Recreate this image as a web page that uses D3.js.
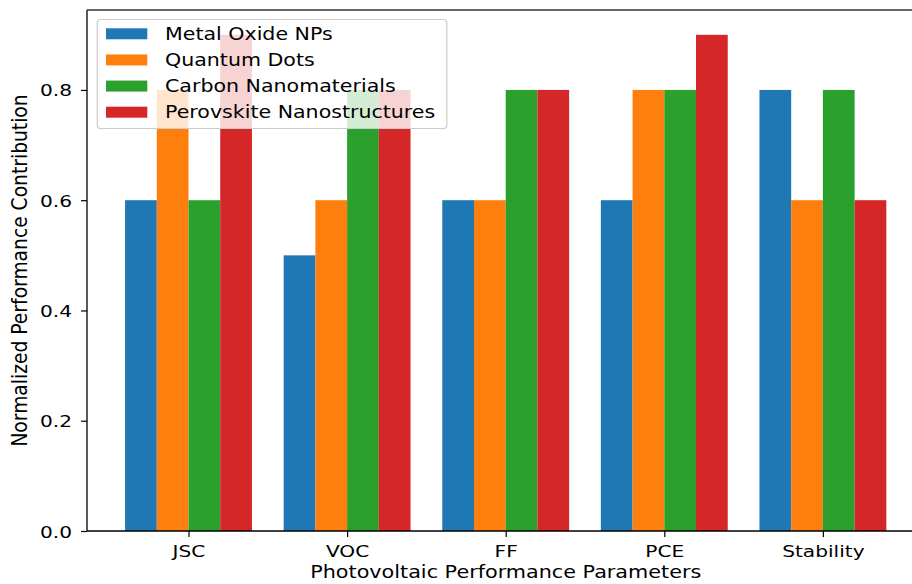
<!DOCTYPE html>
<html>
<head>
<meta charset="utf-8">
<script src="https://cdn.jsdelivr.net/npm/d3@7"></script>
<style>
  html, body { margin: 0; padding: 0; background: #fff; }
  svg { display: block; }
  text { font-family: "DejaVu Sans", sans-serif; fill: #000; }
</style>
</head>
<body>
<svg id="chart" width="912" height="584"></svg>
<script>
// Photovoltaic parameters along the x axis
const categories = ["JSC", "VOC", "FF", "PCE", "Stability"];

// One series per nanomaterial class
const seriesNames = ["Metal Oxide NPs", "Quantum Dots", "Carbon Nanomaterials", "Perovskite Nanostructures"];
const metalOxide = [0.6, 0.5, 0.6, 0.6, 0.8];
const quantumDots = [0.8, 0.6, 0.6, 0.8, 0.6];
const carbonNano = [0.6, 0.8, 0.8, 0.8, 0.8];
const perovskite = [0.9, 0.8, 0.8, 0.9, 0.6];
const seriesValues = [metalOxide, quantumDots, carbonNano, perovskite];
const seriesColors = ["#1f77b4", "#ff7f0e", "#2ca02c", "#d62728"];

const yTicks = [0.0, 0.2, 0.4, 0.6, 0.8];

const svg = d3.select("#chart");

const plot = { left: 87, right: 924.4, top: 10, bottom: 531 };
const barWidth = 0.2;
const nSeries = seriesValues.length;

// x is a continuous scale over group indices, padded on both sides
const x = d3.scaleLinear()
  .domain([-0.64, categories.length - 1 + 0.64])
  .range([plot.left, plot.right]);

const yMax = d3.max(seriesValues.flat()) * 1.05;
const y = d3.scaleLinear()
  .domain([0, yMax])
  .range([plot.bottom, plot.top]);

// helper: text stretched horizontally to suit the figure's proportions
function stretchedText(g, str, tx, ty, size, sx, anchor, rotate) {
  return g.append("text")
    .attr("transform", `translate(${tx},${ty}) scale(${sx},1)` + (rotate ? ` rotate(${rotate})` : ""))
    .attr("font-size", size)
    .attr("text-anchor", anchor)
    .text(str);
}

// bars
const bars = svg.append("g");
seriesValues.forEach((vals, j) => {
  bars.selectAll(null)
    .data(vals)
    .enter()
    .append("rect")
    .attr("x", (d, i) => x(i + (j - (nSeries - 1) / 2) * barWidth - barWidth / 2))
    .attr("width", x(barWidth) - x(0))
    .attr("y", d => y(d))
    .attr("height", d => y(0) - y(d))
    .attr("fill", seriesColors[j]);
});

// spines
const spines = svg.append("g").attr("stroke", "#000").attr("stroke-width", 1.3).attr("fill", "none");
spines.append("line").attr("x1", plot.left).attr("x2", plot.left).attr("y1", plot.top).attr("y2", plot.bottom);
spines.append("line").attr("x1", plot.left).attr("x2", plot.right).attr("y1", plot.bottom).attr("y2", plot.bottom);
spines.append("line").attr("x1", plot.left).attr("x2", plot.right).attr("y1", plot.top).attr("y2", plot.top).attr("stroke", "#333");
spines.append("line").attr("x1", plot.right).attr("x2", plot.right).attr("y1", plot.top).attr("y2", plot.bottom);

// y axis ticks and labels
const yAxis = svg.append("g")
  .attr("transform", `translate(${plot.left},0)`)
  .call(d3.axisLeft(y).tickValues(yTicks).tickSize(6).tickFormat(d3.format(".1f")));
yAxis.select(".domain").remove();
yAxis.selectAll(".tick line").attr("stroke", "#000").attr("stroke-width", 1.2);
yAxis.selectAll(".tick").each(function() {
  const tick = d3.select(this);
  const label = tick.select("text").text();
  tick.select("text").remove();
  stretchedText(tick, label, -15, 6, 16, 1.26, "end");
});

// x axis ticks and labels
const xAxis = svg.append("g")
  .attr("transform", `translate(0,${plot.bottom})`)
  .call(d3.axisBottom(x).tickValues(d3.range(categories.length)).tickSize(6).tickFormat(i => categories[i]));
xAxis.select(".domain").remove();
xAxis.selectAll(".tick line").attr("stroke", "#000").attr("stroke-width", 1.2);
xAxis.selectAll(".tick").each(function() {
  const tick = d3.select(this);
  const label = tick.select("text").text();
  tick.select("text").remove();
  stretchedText(tick, label, 0, 26, 16, 1.26, "middle");
});

// axis titles
stretchedText(svg, "Photovoltaic Performance Parameters", (plot.left + plot.right) / 2, 578, 17, 1.22, "middle");
stretchedText(svg, "Normalized Performance Contribution", 27, (plot.top + plot.bottom) / 2, 18.7, 1.1, "middle", -90);

// legend
const legend = svg.append("g");
legend.append("rect")
  .attr("x", 97.3).attr("y", 19.5)
  .attr("width", 349.5).attr("height", 109)
  .attr("rx", 3)
  .attr("fill", "#fff").attr("fill-opacity", 0.8)
  .attr("stroke", "#cccccc").attr("stroke-width", 1.2);
const rowY = d3.scaleLinear().domain([0, nSeries - 1]).range([33.8, 112.2]);
seriesNames.forEach((name, j) => {
  legend.append("rect")
    .attr("x", 106).attr("y", rowY(j) - 5.5)
    .attr("width", 41.3).attr("height", 11)
    .attr("fill", seriesColors[j]);
  stretchedText(legend, name, 165, rowY(j) + 6.2, 17, 1.21, "start");
});
</script>
</body>
</html>
